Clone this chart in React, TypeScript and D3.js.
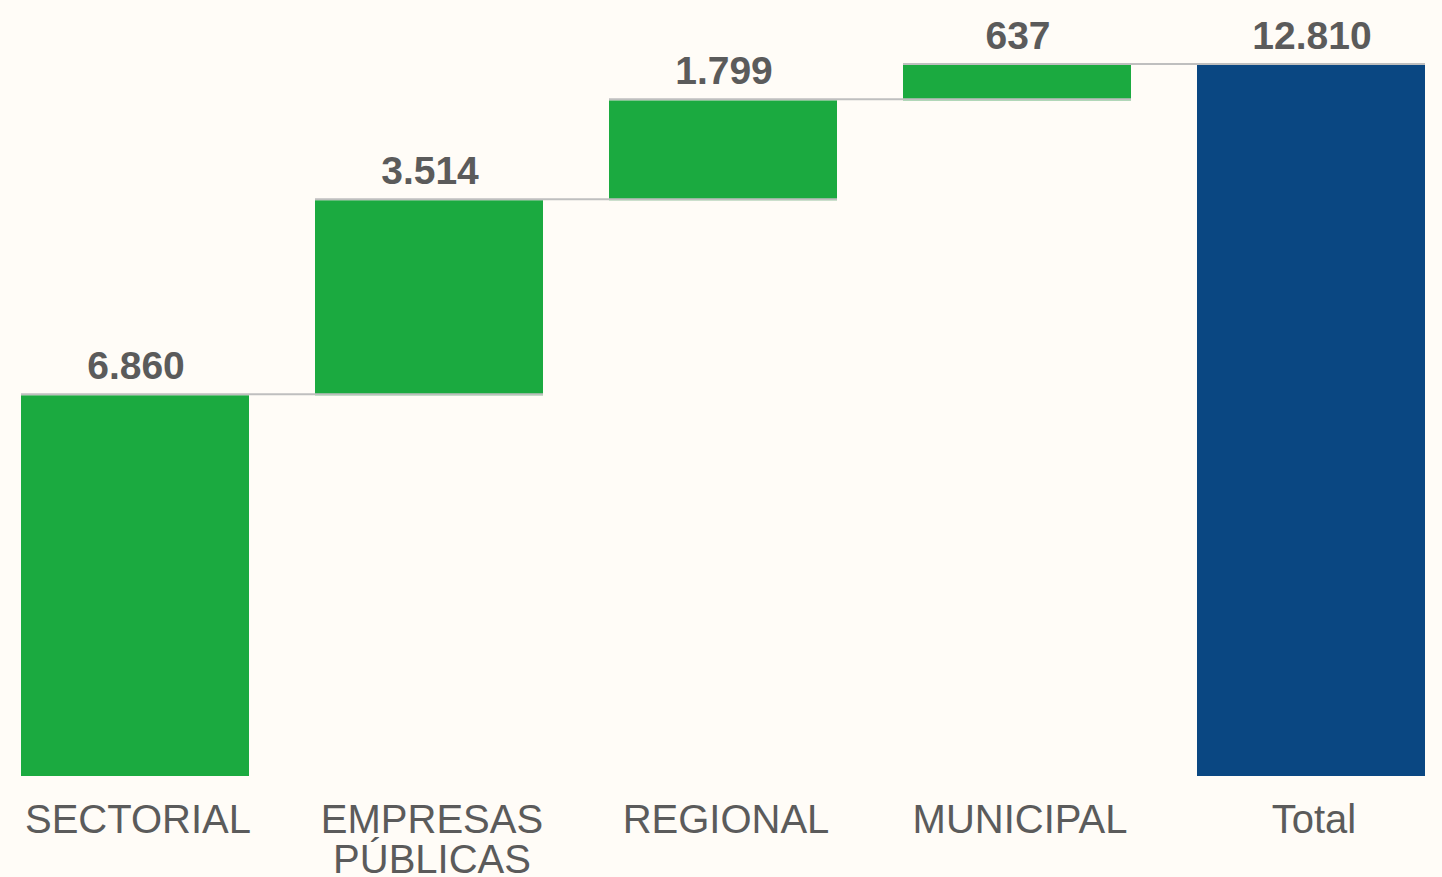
import React, { useRef, useEffect } from 'react';
import * as d3 from 'd3';

// categories and values of the waterfall
const categories = ['SECTORIAL', 'EMPRESAS PÚBLICAS', 'REGIONAL', 'MUNICIPAL', 'Total'];
const values = [6860, 3514, 1799, 637];
const total = 12810;

const width = 1442;
const height = 877;

function App() {
  const ref = useRef<SVGSVGElement>(null);

  useEffect(() => {
    document.body.style.margin = '0';
    const svg = d3.select(ref.current);
    svg.selectAll('*').remove();

    const x = d3.scaleBand()
      .domain(categories)
      .range([-12, 1458])
      .paddingInner(66 / 294)
      .paddingOuter(33 / 294);

    const y = d3.scaleLinear().domain([0, total]).range([776, 65]);

    const locale = d3.formatLocale({ decimal: ',', thousands: '.', grouping: [3], currency: ['', ''] });
    const fmt = locale.format(',d');

    // build the steps: start / end of each bar
    let acc = 0;
    const steps = values.map((v, i) => {
      const s = { name: categories[i], start: acc, end: acc + v, value: v, total: false };
      acc += v;
      return s;
    });
    steps.push({ name: categories[4], start: 0, end: total, value: total, total: true });

    svg.append('rect')
      .attr('width', width).attr('height', height)
      .attr('fill', '#FFFCF7');

    svg.selectAll('rect.bar')
      .data(steps)
      .enter()
      .append('rect')
      .attr('class', 'bar')
      .attr('x', d => x(d.name)!)
      .attr('y', d => y(d.end))
      .attr('width', x.bandwidth())
      .attr('height', d => y(d.start) - y(d.end))
      .attr('fill', d => d.total ? '#0A4782' : '#1BAA40');

    // connector lines
    svg.selectAll('line.conn')
      .data(steps.slice(0, -1))
      .enter()
      .append('line')
      .attr('class', 'conn')
      .attr('x1', d => x(d.name)!)
      .attr('x2', (d, i) => x(steps[i + 1].name)! + x.bandwidth())
      .attr('y1', d => y(d.end) - 1)
      .attr('y2', d => y(d.end) - 1)
      .attr('stroke', '#BFBFBF')
      .attr('stroke-width', 2);

    // value labels
    svg.selectAll('text.val')
      .data(steps)
      .enter()
      .append('text')
      .attr('class', 'val')
      .attr('x', d => x(d.name)! + x.bandwidth() / 2 + 1)
      .attr('y', d => y(d.end) - 16)
      .attr('text-anchor', 'middle')
      .attr('font-family', '"Liberation Sans", Arial, sans-serif')
      .attr('font-weight', 'bold')
      .attr('font-size', '39px')
      .attr('fill', '#5B5B5B')
      .text(d => fmt(d.value));

    // category labels (wrap on space for the long one)
    const cats = svg.selectAll('text.cat')
      .data(steps)
      .enter()
      .append('text')
      .attr('class', 'cat')
      .attr('y', 833)
      .attr('text-anchor', 'middle')
      .attr('font-family', '"Liberation Sans", Arial, sans-serif')
      .attr('font-size', '40px')
      .attr('fill', '#5B5B5B');

    cats.each(function (d) {
      const words = d.name.split(' ');
      const t = d3.select(this);
      words.forEach((w, i) => {
        t.append('tspan')
          .attr('x', x(d.name)! + x.bandwidth() / 2 + 3)
          .attr('dy', i === 0 ? 0 : 40)
          .text(w);
      });
    });
  }, []);

  return (
    <svg ref={ref} width={width} height={height} style={{ display: 'block' }}></svg>
  );
}

export default App;
